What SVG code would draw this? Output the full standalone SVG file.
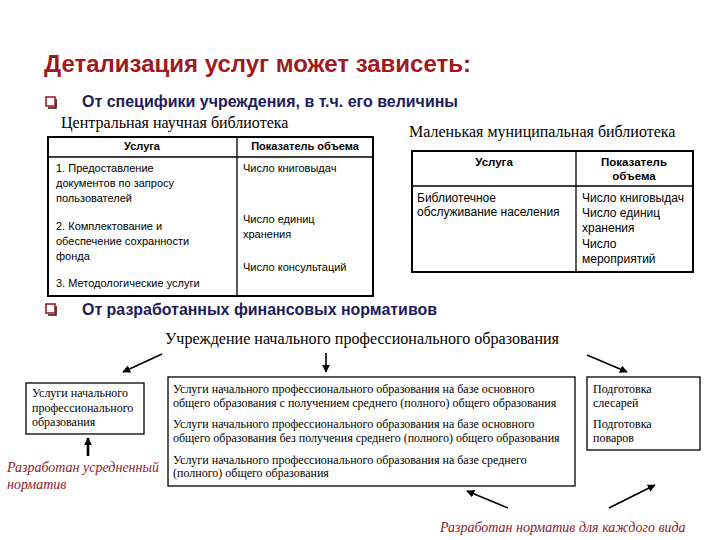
<svg xmlns="http://www.w3.org/2000/svg" width="720" height="540" viewBox="0 0 720 540">
<defs>
<style>
.title{font-family:"Liberation Sans",Arial,sans-serif;font-weight:bold;font-size:23px;fill:#9e1a1f}
.bul{font-family:"Liberation Sans",Arial,sans-serif;font-weight:bold;font-size:16px;fill:#1c1c5c}
.cap{font-family:"Liberation Serif","Times New Roman",serif;font-size:16px;fill:#000}
.t1{font-family:"Liberation Sans",Arial,sans-serif;font-size:11px;fill:#000}
.t1h{font-family:"Liberation Sans",Arial,sans-serif;font-size:11px;font-weight:bold;fill:#000;text-anchor:middle}
.t2{font-family:"Liberation Sans",Arial,sans-serif;font-size:12px;fill:#000}
.t2h{font-family:"Liberation Sans",Arial,sans-serif;font-size:11.5px;font-weight:bold;fill:#000;text-anchor:middle}
.sv{font-family:"Liberation Serif","Times New Roman",serif;font-size:12px;fill:#000}
.red{font-family:"Liberation Serif","Times New Roman",serif;font-style:italic;font-size:14px;fill:#8a1a2a}
.outer{fill:#fff;stroke:#000;stroke-width:2}
.inner{stroke:#000;stroke-width:1.3;fill:none}
.box{fill:#fff;stroke:#000;stroke-width:1.3}
.sq{fill:#fff;stroke:#a01c22;stroke-width:1.6}
.sqs{fill:none;stroke:#3a0a0a;stroke-width:1.6}
.arr{stroke:#000;stroke-width:1.6;fill:none;marker-end:url(#ah)}
.arrT{stroke:#000;stroke-width:2.6;fill:none;marker-end:url(#ahT)}
</style>
<marker id="ah" viewBox="0 0 10 10" refX="9" refY="5" markerWidth="5" markerHeight="5" orient="auto" markerUnits="strokeWidth">
<path d="M0,0 L10,5 L0,10 z" fill="#000"/>
</marker>
<marker id="ahT" viewBox="0 0 10 10" refX="9" refY="5" markerWidth="3" markerHeight="3" orient="auto" markerUnits="strokeWidth">
<path d="M0,0 L10,5 L0,10 z" fill="#000"/>
</marker>
</defs>
<rect x="0" y="0" width="720" height="540" fill="#fff"/>

<g id="title">
<text class="title" x="44" y="72" textLength="427" lengthAdjust="spacingAndGlyphs">Детализация услуг может зависеть:</text>
</g>

<g id="bullet1">
<path class="sqs" d="M56,99 V108 H48"/>
<rect class="sq" x="46" y="97" width="9" height="9"/>
<text class="bul" x="82" y="107" textLength="376" lengthAdjust="spacingAndGlyphs">От специфики учреждения, в т.ч. его величины</text>
</g>

<g id="table1">
<text class="cap" x="61" y="128">Центральная научная библиотека</text>
<rect class="outer" x="48" y="137" width="325" height="159"/>
<line class="inner" x1="48" y1="157" x2="373" y2="157"/>
<line class="inner" x1="237" y1="137" x2="237" y2="296"/>
<text class="t1h" x="142" y="150">Услуга</text>
<text class="t1h" x="305" y="150">Показатель объема</text>
<text class="t1" x="56" y="172">1. Предоставление</text>
<text class="t1" x="56" y="187">документов по запросу</text>
<text class="t1" x="56" y="202">пользователей</text>
<text class="t1" x="56" y="230">2. Комплектование и</text>
<text class="t1" x="56" y="245">обеспечение сохранности</text>
<text class="t1" x="56" y="260">фонда</text>
<text class="t1" x="56" y="287">3. Методологические услуги</text>
<text class="t1" x="243" y="172">Число книговыдач</text>
<text class="t1" x="243" y="223">Число единиц</text>
<text class="t1" x="243" y="238">хранения</text>
<text class="t1" x="243" y="271">Число консультаций</text>
</g>

<g id="table2">
<text class="cap" x="409" y="137">Маленькая муниципальная библиотека</text>
<rect class="outer" x="412" y="151" width="281" height="121"/>
<line class="inner" x1="412" y1="186" x2="693" y2="186"/>
<line class="inner" x1="576" y1="151" x2="576" y2="272"/>
<text class="t2h" x="494" y="166">Услуга</text>
<text class="t2h" x="634" y="166">Показатель</text>
<text class="t2h" x="634" y="180">объема</text>
<text class="t2" x="417" y="202">Библиотечное</text>
<text class="t2" x="417" y="216">обслуживание населения</text>
<text class="t2" x="582" y="202">Число книговыдач</text>
<text class="t2" x="582" y="217">Число единиц</text>
<text class="t2" x="582" y="232">хранения</text>
<text class="t2" x="582" y="248">Число</text>
<text class="t2" x="582" y="263">мероприятий</text>
</g>

<g id="bullet2">
<path class="sqs" d="M56,306 V315 H48"/>
<rect class="sq" x="46" y="304" width="9" height="9"/>
<text class="bul" x="82" y="315" textLength="355" lengthAdjust="spacingAndGlyphs">От разработанных финансовых нормативов</text>
</g>

<g id="institution">
<text class="cap" x="165" y="344" textLength="394" lengthAdjust="spacingAndGlyphs">Учреждение начального профессионального образования</text>
</g>

<g id="box-left">
<rect class="box" x="26" y="383" width="118" height="51"/>
<text class="sv" x="32" y="397">Услуги начального</text>
<text class="sv" x="32" y="412">профессионального</text>
<text class="sv" x="32" y="426">образования</text>
</g>

<g id="box-middle">
<rect class="box" x="168" y="377" width="407" height="109"/>
<text class="sv" x="173" y="393">Услуги начального профессионального образования на базе основного</text>
<text class="sv" x="173" y="407">общего образования с получением среднего (полного) общего образования</text>
<text class="sv" x="173" y="428">Услуги начального профессионального образования на базе основного</text>
<text class="sv" x="173" y="442">общего образования без получения среднего (полного) общего образования</text>
<text class="sv" x="173" y="464">Услуги начального профессионального образования на базе среднего</text>
<text class="sv" x="173" y="477">(полного) общего образования</text>
</g>

<g id="box-right">
<rect class="box" x="587" y="377" width="113" height="73"/>
<text class="sv" x="593" y="393">Подготовка</text>
<text class="sv" x="593" y="407">слесарей</text>
<text class="sv" x="593" y="428">Подготовка</text>
<text class="sv" x="593" y="442">поваров</text>
</g>

<g id="note-left">
<text class="red" x="7" y="472">Разработан усредненный</text>
<text class="red" x="7" y="489">норматив</text>
</g>

<g id="note-right">
<text class="red" x="440" y="532">Разработан норматив для каждого вида</text>
</g>

<g id="connectors">
<line class="arr" x1="162" y1="354" x2="123" y2="372"/>
<line class="arr" x1="326" y1="353" x2="326" y2="372"/>
<line class="arr" x1="587" y1="355" x2="627" y2="372"/>
<line class="arrT" x1="88" y1="456" x2="88" y2="438"/>
<line class="arr" x1="508" y1="508" x2="467" y2="491"/>
<line class="arr" x1="609" y1="508" x2="655" y2="485"/>
</g>
</svg>
